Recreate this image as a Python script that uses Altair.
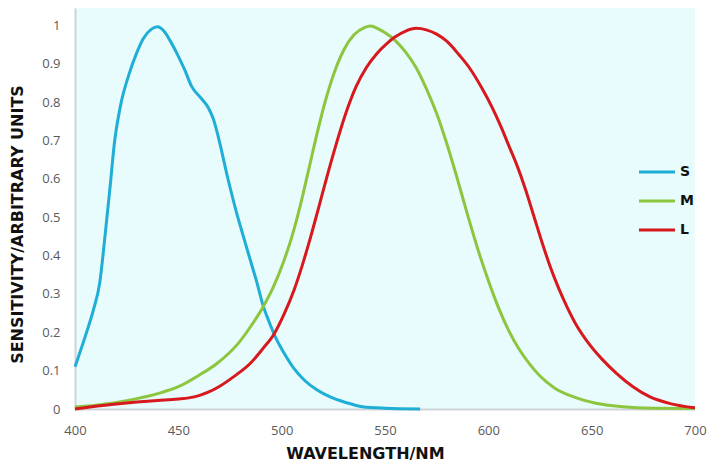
import altair as alt
import pandas as pd

S_nm = [400, 405, 409, 412, 414.5, 417, 419, 422, 426, 430, 433, 437, 440, 443, 446, 449, 453, 456.5, 461, 464.5, 467, 469.3, 474, 478, 482, 485, 488, 491, 494, 497, 501, 506, 511, 517, 524, 531, 539, 550, 567]
S_v = [0.11, 0.19, 0.26, 0.33, 0.45, 0.58, 0.69, 0.79, 0.87, 0.93, 0.965, 0.99, 0.996, 0.985, 0.96, 0.93, 0.885, 0.84, 0.81, 0.785, 0.755, 0.71, 0.60, 0.515, 0.44, 0.385, 0.33, 0.27, 0.226, 0.187, 0.147, 0.105, 0.075, 0.05, 0.03, 0.017, 0.006, 0.002, 0.0]

M_nm = [400, 410, 420, 430, 440, 450, 460, 469, 479, 485, 491, 496, 501, 505, 509, 513, 517, 521, 525, 530, 535, 540, 543, 547, 551, 555, 560, 565, 570, 575, 580, 585, 590, 595, 600, 605, 610, 615, 620, 625, 632, 641, 652, 665, 680, 700]
M_v = [0.005, 0.01, 0.017, 0.027, 0.04, 0.058, 0.088, 0.12, 0.171, 0.215, 0.266, 0.318, 0.385, 0.45, 0.53, 0.622, 0.715, 0.80, 0.87, 0.935, 0.975, 0.994, 0.998, 0.99, 0.977, 0.96, 0.93, 0.89, 0.835, 0.77, 0.69, 0.60, 0.505, 0.415, 0.335, 0.263, 0.203, 0.155, 0.117, 0.086, 0.055, 0.032, 0.015, 0.006, 0.002, 0.001]

L_nm = [400, 410, 420, 430, 440, 450, 455, 460, 465, 469, 477, 485, 491, 496.5, 501, 506, 510, 514, 518, 522, 526, 531, 536, 541, 546, 551, 555, 560, 565, 570, 575, 580, 586, 591, 597, 602, 606, 610, 614, 618, 622, 626, 630, 634, 638, 643, 648, 655, 662, 670, 678, 688, 700]
L_v = [0.0, 0.007, 0.013, 0.018, 0.022, 0.026, 0.029, 0.035, 0.045, 0.056, 0.085, 0.12, 0.158, 0.197, 0.245, 0.31, 0.375, 0.448, 0.527, 0.607, 0.683, 0.77, 0.84, 0.89, 0.926, 0.953, 0.97, 0.985, 0.992, 0.988, 0.977, 0.958, 0.922, 0.888, 0.835, 0.784, 0.737, 0.685, 0.633, 0.572, 0.503, 0.434, 0.37, 0.315, 0.267, 0.215, 0.175, 0.13, 0.093, 0.058, 0.032, 0.014, 0.003]

series = ["S", "M", "L"]
colors = ["#1eaed6", "#8cc63e", "#d7191e"]
x_ticks = [400, 450, 500, 550, 600, 650, 700]
y_ticks = [0, 0.1, 0.2, 0.3, 0.4, 0.5, 0.6, 0.7, 0.8, 0.9, 1]

rows = []
for name, xs, ys in [("S", S_nm, S_v), ("M", M_nm, M_v), ("L", L_nm, L_v)]:
    for i, (a, b) in enumerate(zip(xs, ys)):
        rows.append({"cone": name, "nm": a, "v": b, "order": i})
df = pd.DataFrame(rows)

title_font = "DejaVu Sans"
tick_font = "Open Sans"

chart = alt.Chart(df).mark_line(strokeWidth=3, interpolate="monotone").encode(
    x=alt.X("nm:Q", scale=alt.Scale(domain=[400, 700], nice=False, zero=False),
            axis=alt.Axis(values=x_ticks, title="WAVELENGTH/NM", grid=False, ticks=False,
                          domainColor="#cfd3d6", domainWidth=2, labelColor="#5a5a5a",
                          labelFont=tick_font, labelFontSize=13, labelPadding=15,
                          labelFlush=False, labelOverlap=False,
                          titleFont=title_font, titleFontSize=16, titleFontWeight="bold",
                          titleColor="#111111", titleX=290, titleY=44,
                          titleBaseline="middle")),
    y=alt.Y("v:Q", scale=alt.Scale(domain=[0, 1.045], nice=False),
            axis=alt.Axis(values=y_ticks, title="SENSITIVITY/ARBITRARY UNITS", grid=False, ticks=False,
                          domainColor="#cfd3d6", domainWidth=2, labelColor="#5a5a5a",
                          labelFont=tick_font, labelFontSize=13, labelPadding=15,
                          format="~g", labelOverlap=False,
                          titleFont=title_font, titleFontSize=16, titleFontWeight="bold",
                          titleColor="#111111", titleX=-58, titleY=216,
                          titleBaseline="middle")),
    color=alt.Color("cone:N", scale=alt.Scale(domain=series, range=colors),
                    legend=alt.Legend(title=None, orient="none", legendX=562, legendY=144,
                                      symbolType="stroke", symbolSize=1300, symbolStrokeWidth=3,
                                      labelFont=title_font, labelFontSize=14, labelFontWeight="bold",
                                      labelColor="#111111", rowPadding=2, padding=0,
                                      labelOffset=3)),
    order=alt.Order("order:Q"),
).properties(
    width=620, height=401,
    autosize=alt.AutoSizeParams(type="none"),
    padding={"left": 67, "top": 0, "right": 13, "bottom": 52},
).configure_view(fill="#e8fbfd", stroke=None)

chart.save("out.html", embed_options={"renderer": "svg", "actions": False})
